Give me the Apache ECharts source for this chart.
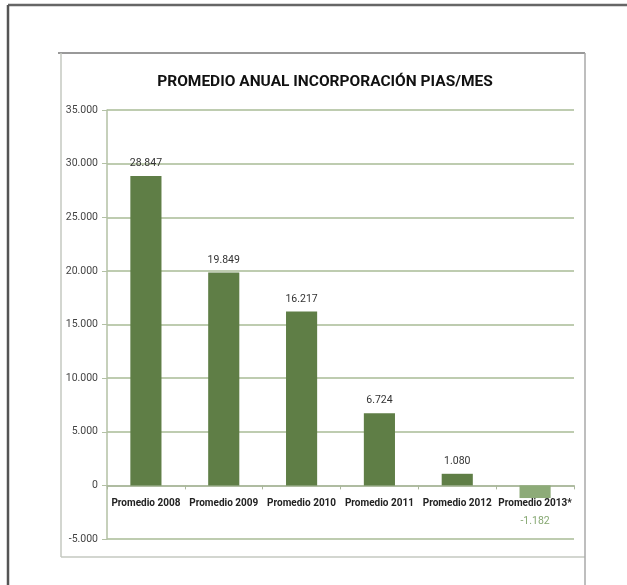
<!DOCTYPE html>
<html>
<head>
<meta charset="utf-8">
<script src="https://cdn.jsdelivr.net/npm/echarts@6/dist/echarts.min.js"></script>
<style>
  html, body { margin: 0; padding: 0; background: #fff; }
  #main { width: 627px; height: 585px; }
</style>
</head>
<body>
<div id="main"></div>
<script>
    // datos del gráfico
    var categorias = ['Promedio 2008', 'Promedio 2009', 'Promedio 2010', 'Promedio 2011', 'Promedio 2012', 'Promedio 2013*'];
    var promedios = [28847, 19849, 16217, 6724, 1080, -1182];
    var ejeMin = -5000;
    var ejeMax = 35000;
    var ejePaso = 5000;

    var fuente = "Roboto, 'Liberation Sans', sans-serif";

    // 28847 -> "28.847"
    function miles(v) {
        var s = String(Math.abs(v));
        var out = s.replace(/\B(?=(\d{3})+(?!\d))/g, '.');
        return (v < 0 ? '-' : '') + out;
    }

    var datos = promedios.map(function (v) {
        if (v < 0) {
            return {
                value: v,
                itemStyle: { color: '#8dab78' },
                label: { position: 'bottom', distance: 18, color: '#86a872' }
            };
        }
        return v;
    });

    // rejilla: el eje X va en el cero, no abajo
    var gridTop = 110, gridBottom = 46;
    var altoRejilla = 585 - gridTop - gridBottom;
    var offsetCero = -(0 - ejeMin) / (ejeMax - ejeMin) * altoRejilla;

    var myChart = echarts.init(document.getElementById('main'));
    var option = {
        animation: false,
        backgroundColor: '#fff',
        title: {
            text: 'PROMEDIO ANUAL INCORPORACIÓN PIAS/MES',
            left: 320,
            top: 69,
            textAlign: 'center',
            textStyle: { fontFamily: fuente, fontSize: 15.5, fontWeight: 'bold', color: '#111' }
        },
        // marcos de la imagen
        graphic: [
            { type: 'line', shape: { x1: 8, y1: 5, x2: 627, y2: 5 }, style: { stroke: '#666', lineWidth: 2.5 } },
            { type: 'line', shape: { x1: 8, y1: 5, x2: 8, y2: 585 }, style: { stroke: '#555', lineWidth: 2.5 } },
            { type: 'line', shape: { x1: 58, y1: 53, x2: 585, y2: 53 }, style: { stroke: '#999', lineWidth: 2 } },
            { type: 'line', shape: { x1: 61, y1: 53, x2: 61, y2: 557 }, style: { stroke: '#c4c8c0', lineWidth: 1.5 } },
            { type: 'line', shape: { x1: 61, y1: 557, x2: 585, y2: 557 }, style: { stroke: '#c4c8c0', lineWidth: 1.5 } },
            { type: 'line', shape: { x1: 585, y1: 53, x2: 585, y2: 585 }, style: { stroke: '#a8a8a8', lineWidth: 1.5 } }
        ],
        grid: { left: 107, right: 53, top: gridTop, bottom: gridBottom, containLabel: false },
        xAxis: {
            type: 'category',
            data: categorias,
            offset: offsetCero,
            axisLine: { onZero: false, lineStyle: { color: '#aab79c', width: 1.5 } },
            axisTick: { show: true, length: 4, lineStyle: { color: '#aab79c' } },
            axisLabel: { interval: 0, margin: 13, fontFamily: fuente, fontSize: 10, fontWeight: 'bold', color: '#222' }
        },
        yAxis: {
            type: 'value',
            min: ejeMin,
            max: ejeMax,
            interval: ejePaso,
            axisLine: { show: true, lineStyle: { color: '#b3c1a5', width: 1.5 } },
            axisTick: { show: true, length: 5, lineStyle: { color: '#b3c1a5' } },
            splitLine: { lineStyle: { color: '#a9bb96', width: 1.5 } },
            axisLabel: {
                margin: 9,
                fontFamily: fuente,
                fontSize: 10.5,
                color: '#444',
                formatter: function (v) { return miles(v); }
            }
        },
        series: [{
            type: 'bar',
            data: datos,
            barWidth: '40%',
            itemStyle: { color: '#5f7e46' },
            label: {
                show: true,
                position: 'top',
                distance: 7,
                fontFamily: fuente,
                fontSize: 10.5,
                color: '#333',
                formatter: function (p) { return miles(p.value); }
            }
        }]
    };
    myChart.setOption(option);
</script>
</body>
</html>
